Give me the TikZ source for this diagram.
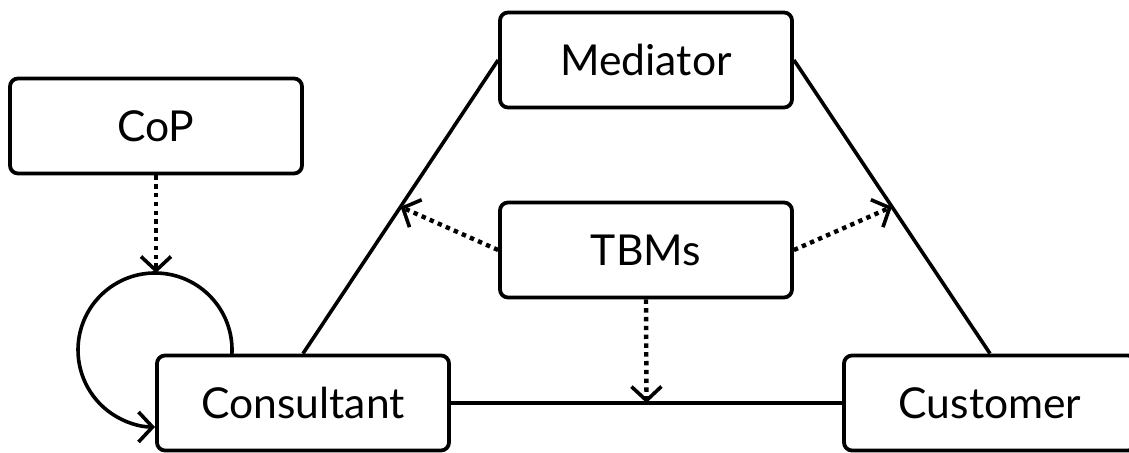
\documentclass[tikz,border=0pt]{standalone}
\usepackage{fontspec}
\setmainfont{Lato}
\usetikzlibrary{arrows.meta,calc}

\begin{document}
\begin{tikzpicture}[x=0.5pt,y=-0.5pt,line cap=butt,line join=round,
  font=\fontsize{21.3}{25}\selectfont,
  box/.style={draw,rounded corners=4pt,line width=1.9pt,minimum width=146pt,minimum height=47.5pt,inner sep=0pt,fill=white},
  link/.style={line width=1.8pt},
  dotlink/.style={line width=2.2pt,dash pattern=on 2.2pt off 2.2pt,-{Straight Barb[length=7pt,width=15pt,line width=1.8pt]}},
  loop/.style={line width=1.8pt,-{Straight Barb[length=7pt,width=15pt]}}]
\useasboundingbox (0,0) rectangle (1129,453);
% boxes
\node[box] (cop) at (156,126) {CoP};
\node[box] (med) at (646,60) {Mediator};
\node[box] (tbm) at (646,250) {TBMs};
\node[box] (cons) at (303,403) {Consultant};
\node[box] (cust) at (990,403) {Customer};
% triangle
\draw[link] (cons.north) -- (med.west);
\draw[link] (med.east) -- (cust.north);
\draw[link] (cons.east) -- (cust.west);
% self loop of the consultant
\coordinate (loopc) at (155,350);
\coordinate (looptop) at ($(loopc)+(0,-77)$);
\draw[loop] ($(loopc)+(4.5:77)$) arc[start angle=4.5,end angle=-270,radius=77];
% dotted influences
\draw[dotlink] (cop.south) -- (cop.south |- looptop);
\draw[dotlink] (tbm.west) -- ($(cons.north)!0.5!(med.west)$);
\draw[dotlink] (tbm.east) -- ($(med.east)!0.5!(cust.north)$);
\draw[dotlink] (tbm.south) -- ($(cons.east)!0.5!(cust.west)$);
\end{tikzpicture}
\end{document}
